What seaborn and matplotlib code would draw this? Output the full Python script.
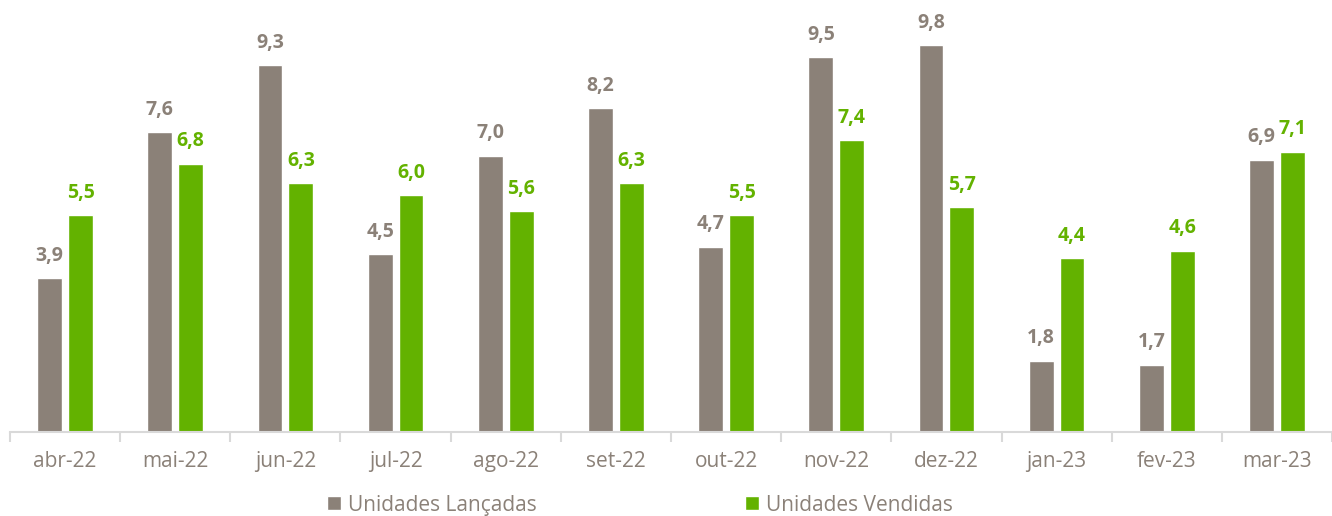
import pandas as pd
import matplotlib.pyplot as plt
import seaborn as sns

# dados do gráfico (milhares de unidades)
meses = ["abr-22", "mai-22", "jun-22", "jul-22", "ago-22", "set-22",
         "out-22", "nov-22", "dez-22", "jan-23", "fev-23", "mar-23"]
lancadas = [3.9, 7.6, 9.3, 4.5, 7.0, 8.2, 4.7, 9.5, 9.8, 1.8, 1.7, 6.9]
vendidas = [5.5, 6.8, 6.3, 6.0, 5.6, 6.3, 5.5, 7.4, 5.7, 4.4, 4.6, 7.1]
series = ["Unidades Lançadas", "Unidades Vendidas"]

cor_cinza = "#8B8178"
cor_verde = "#63B200"
cor_texto = "#8B8178"

sns.set_theme(style="white")
plt.rcParams["font.family"] = ["Open Sans", "DejaVu Sans"]

df = pd.DataFrame({
    "mes": meses * 2,
    "valor": lancadas + vendidas,
    "serie": [series[0]] * len(meses) + [series[1]] * len(meses),
})

fig = plt.figure(figsize=(13.32, 5.16), dpi=100)
ax = fig.add_axes([10 / 1332, 84 / 516, 1322 / 1332, 432 / 516])

sns.barplot(data=df, x="mes", y="valor", hue="serie", order=meses,
            hue_order=series, palette=[cor_cinza, cor_verde],
            width=0.56, gap=0.19, saturation=1, errorbar=None, ax=ax)

# rótulos de dados
for cont, cor in zip(ax.containers, [cor_cinza, cor_verde]):
    labels = [f"{v:.1f}".replace(".", ",") for v in cont.datavalues]
    ax.bar_label(cont, labels=labels, padding=9, color=cor,
                 fontsize=14, fontweight="bold")

ax.set_xlim(-0.5, len(meses) - 0.5)
ax.set_ylim(0, 10.95)
ax.set_xlabel("")
ax.set_ylabel("")
ax.set_yticks([])

for s in ["top", "right", "left"]:
    ax.spines[s].set_visible(False)
ax.spines["bottom"].set_color("#D9D9D9")
ax.spines["bottom"].set_linewidth(1.5)

ax.set_xticks([i for i in range(len(meses))])
ax.set_xticklabels(meses, fontsize=15, color=cor_texto)
ax.tick_params(axis="x", length=0, pad=14)
ax.set_xticks([i - 0.5 for i in range(len(meses) + 1)], minor=True)
ax.tick_params(axis="x", which="minor", length=7, width=1.5,
               color="#D9D9D9", bottom=True)

leg = ax.legend(loc="center", bbox_to_anchor=(0.4766, -0.169), ncol=2,
                frameon=False, fontsize=15, handlelength=0.65,
                handleheight=0.65, handletextpad=0.35, columnspacing=10)
for t in leg.get_texts():
    t.set_color(cor_texto)

fig.savefig("out.png", dpi=100)
